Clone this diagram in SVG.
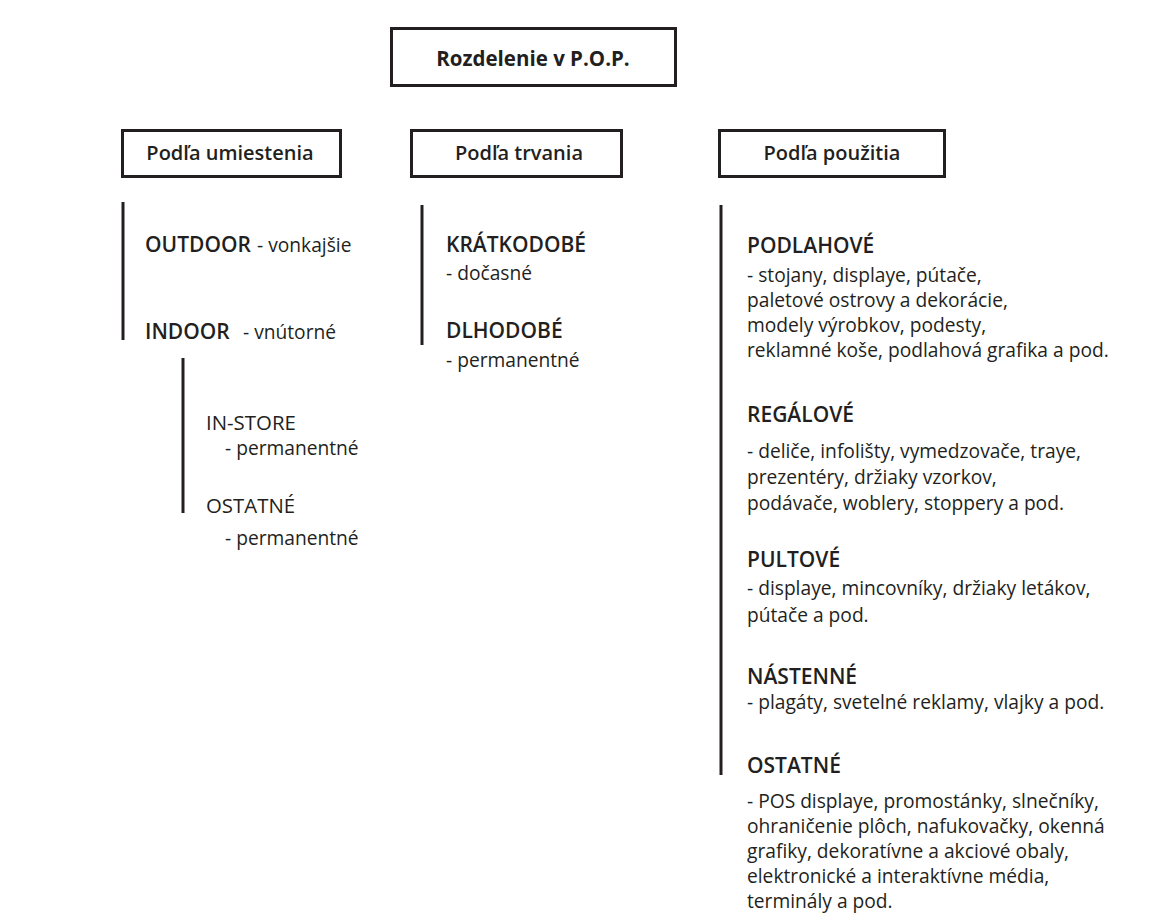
<svg xmlns="http://www.w3.org/2000/svg" width="1157" height="920" viewBox="0 0 1157 920">
<style>
text{font-family:"Open Sans","Noto Sans","DejaVu Sans",sans-serif;fill:#231f20}
.box{fill:#fff;stroke:#231f20;stroke-width:3}
.t{font-size:20px;font-weight:600;text-anchor:middle}
.h{font-size:21px;font-weight:600}
.b{font-size:19.2px}
.s{font-size:20.4px}
.ln{stroke:#231f20;stroke-width:3;fill:none}
</style>
<rect width="1157" height="920" fill="#fff"/>
<g id="root"><rect class="box" x="391.5" y="28.5" width="284" height="57"/><text class="t" x="533" y="66" style="font-size:20.5px;font-weight:700">Rozdelenie v P.O.P.</text></g>
<g id="umiestenie"><rect class="box" x="122.5" y="130.5" width="218" height="46"/><text class="t" x="230" y="160">Podľa umiestenia</text></g>
<g id="trvanie"><rect class="box" x="411.5" y="130.5" width="210" height="46"/><text class="t" x="519" y="160">Podľa trvania</text></g>
<g id="pouzitie"><rect class="box" x="719.5" y="130.5" width="225" height="46"/><text class="t" x="832" y="160">Podľa použitia</text></g>
<g id="connectors">
<line class="ln" x1="123" y1="202" x2="123" y2="340"/>
<line class="ln" x1="183" y1="358" x2="183" y2="513"/>
<line class="ln" x1="422" y1="205" x2="422" y2="345"/>
<line class="ln" x1="721" y1="205" x2="721" y2="775"/>
</g>
<g id="outdoor"><text x="145" y="252"><tspan class="h">OUTDOOR</tspan><tspan class="b" x="257">- vonkajšie</tspan></text></g>
<g id="indoor"><text x="145" y="339"><tspan class="h">INDOOR</tspan><tspan class="b" x="243">- vnútorné</tspan></text></g>
<g id="instore"><text class="s" x="206" y="430">IN-STORE</text><text class="b" x="225" y="455">- permanentné</text></g>
<g id="ostatne1"><text class="s" x="206" y="513">OSTATNÉ</text><text class="b" x="225" y="545">- permanentné</text></g>
<g id="kratkodobe"><text class="h" x="446" y="252">KRÁTKODOBÉ</text><text class="b" x="446" y="280">- dočasné</text></g>
<g id="dlhodobe"><text class="h" x="446" y="338">DLHODOBÉ</text><text class="b" x="446" y="367">- permanentné</text></g>
<g id="podlahove"><text class="h" x="747" y="253">PODLAHOVÉ</text>
<text class="b" x="747" y="282">- stojany, displaye, pútače,</text>
<text class="b" x="747" y="307">paletové ostrovy a dekorácie,</text>
<text class="b" x="747" y="332">modely výrobkov, podesty,</text>
<text class="b" x="747" y="357">reklamné koše, podlahová grafika a pod.</text></g>
<g id="regalove"><text class="h" x="747" y="422">REGÁLOVÉ</text>
<text class="b" x="747" y="458">- deliče, infolišty, vymedzovače, traye,</text>
<text class="b" x="747" y="484">prezentéry, držiaky vzorkov,</text>
<text class="b" x="747" y="510">podávače, woblery, stoppery a pod.</text></g>
<g id="pultove"><text class="h" x="747" y="567">PULTOVÉ</text>
<text class="b" x="747" y="595">- displaye, mincovníky, držiaky letákov,</text>
<text class="b" x="747" y="622">pútače a pod.</text></g>
<g id="nastenne"><text class="h" x="747" y="684">NÁSTENNÉ</text>
<text class="b" x="747" y="709">- plagáty, svetelné reklamy, vlajky a pod.</text></g>
<g id="ostatne2"><text class="h" x="747" y="773">OSTATNÉ</text>
<text class="b" x="747" y="808">- POS displaye, promostánky, slnečníky,</text>
<text class="b" x="747" y="833">ohraničenie plôch, nafukovačky, okenná</text>
<text class="b" x="747" y="858">grafiky, dekoratívne a akciové obaly,</text>
<text class="b" x="747" y="883">elektronické a interaktívne média,</text>
<text class="b" x="747" y="908">terminály a pod.</text></g>
</svg>
